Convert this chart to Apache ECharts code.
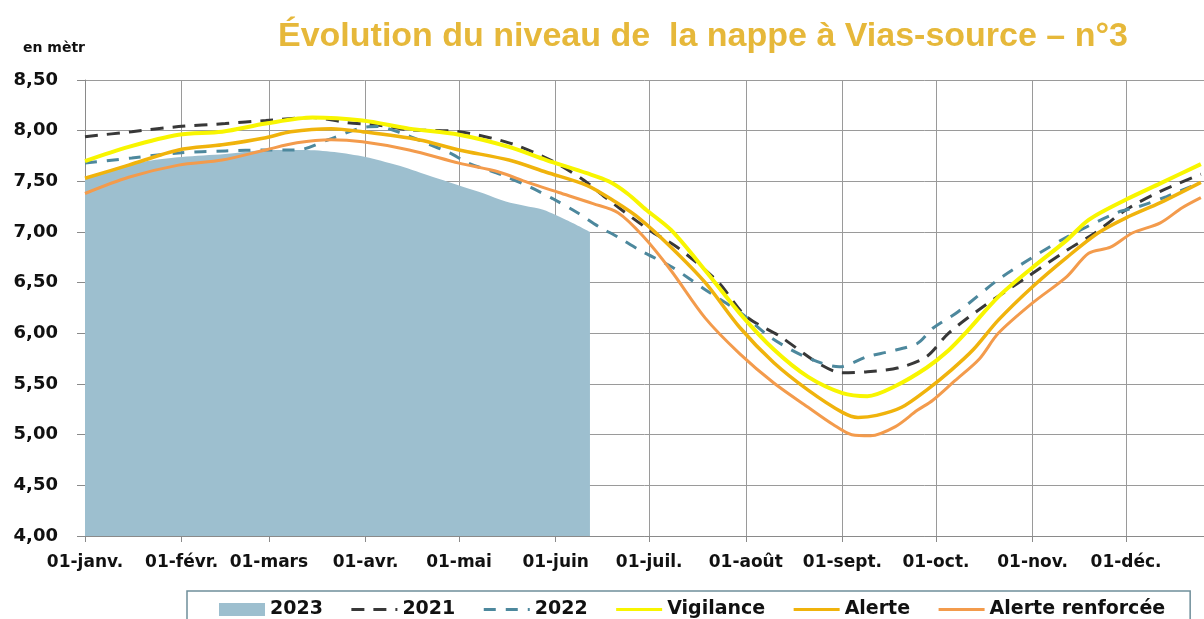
<!doctype html>
<html>
    <head>
        <meta charset="utf-8">
        <title>Évolution du niveau de la nappe à Vias-source – n°3</title>
        <style>
            html, body { margin: 0; padding: 0; background: #fff; }
            #main { width: 1204px; height: 619px; }
        </style>
    </head>
    <body>
        <div id="main"></div>
        <script src="https://cdn.jsdelivr.net/npm/echarts@6/dist/echarts.min.js"></script>
        <script>
            // x axis = day of the year (0 = 1 janvier)
            var monthStarts = [0, 31, 59, 90, 120, 151, 181, 212, 243, 273, 304, 334];
            var monthLabels = ['01-janv.', '01-févr.', '01-mars', '01-avr.', '01-mai', '01-juin',
                '01-juil.', '01-août', '01-sept.', '01-oct.', '01-nov.', '01-déc.'];

            // 2023 (area, stops mid-June)
            var days2023 = [0, 10, 20, 31, 45, 59, 70, 80, 90, 100, 110, 120, 128, 135, 141, 147, 155, 162];
            var vals2023 = [7.52, 7.63, 7.70, 7.74, 7.77, 7.81, 7.81, 7.79, 7.74, 7.66, 7.56, 7.46, 7.38, 7.30, 7.26, 7.22, 7.11, 7.00];

            // 2021
            var days2021 = [0, 15, 30, 45, 58, 73, 84, 95, 104, 120, 136, 148, 154, 161, 167, 181, 190, 203, 212, 223, 235, 243, 251, 261, 270, 277, 288, 302, 315, 324, 334, 345, 358];
            var vals2021 = [7.94, 7.99, 8.04, 8.07, 8.10, 8.13, 8.08, 8.05, 8.01, 7.99, 7.88, 7.73, 7.63, 7.49, 7.34, 7.02, 6.85, 6.51, 6.17, 5.97, 5.71, 5.61, 5.62, 5.66, 5.77, 6.00, 6.26, 6.55, 6.82, 6.99, 7.22, 7.40, 7.57];

            // 2022
            var days2022 = [0, 15, 30, 45, 58, 68, 78, 89, 94, 101, 110, 117, 123, 134, 143, 150, 158, 165, 171, 178, 188, 199, 210, 220, 231, 242, 251, 258, 267, 272, 280, 293, 304, 315, 331, 338, 347, 358];
            var vals2022 = [7.68, 7.73, 7.78, 7.80, 7.81, 7.81, 7.91, 8.03, 8.04, 7.98, 7.87, 7.78, 7.68, 7.56, 7.44, 7.33, 7.19, 7.05, 6.95, 6.82, 6.66, 6.43, 6.21, 5.96, 5.77, 5.67, 5.77, 5.82, 5.90, 6.05, 6.21, 6.53, 6.75, 6.95, 7.19, 7.25, 7.35, 7.49];

            // seuils
            var daysVig = [0, 14, 30, 44, 58, 73, 89, 104, 120, 136, 148, 161, 168, 174, 180, 188, 199, 210, 221, 232, 243, 251, 260, 270, 277, 283, 293, 304, 315, 322, 334, 345, 358];
            var valsVig = [7.70, 7.84, 7.96, 7.99, 8.07, 8.13, 8.10, 8.02, 7.96, 7.84, 7.71, 7.58, 7.50, 7.38, 7.22, 7.02, 6.62, 6.20, 5.84, 5.57, 5.41, 5.38, 5.48, 5.66, 5.83, 6.02, 6.36, 6.65, 6.92, 7.12, 7.32, 7.48, 7.67];

            var daysAle = [0, 14, 30, 44, 58, 66, 79, 89, 107, 120, 136, 148, 161, 170, 178, 188, 199, 210, 221, 232, 243, 248, 254, 262, 270, 278, 285, 293, 304, 315, 325, 334, 345, 358];
            var valsAle = [7.53, 7.66, 7.81, 7.86, 7.93, 7.99, 8.02, 7.99, 7.91, 7.81, 7.71, 7.59, 7.46, 7.30, 7.13, 6.85, 6.50, 6.06, 5.71, 5.44, 5.22, 5.17, 5.19, 5.27, 5.44, 5.64, 5.84, 6.13, 6.46, 6.75, 6.99, 7.14, 7.29, 7.49];

            var daysRen = [0, 14, 30, 44, 58, 68, 79, 89, 104, 120, 133, 142, 152, 163, 171, 179, 188, 199, 210, 221, 232, 240, 246, 252, 260, 267, 272, 279, 287, 293, 304, 315, 322, 329, 336, 345, 352, 358];
            var valsRen = [7.38, 7.54, 7.66, 7.71, 7.81, 7.88, 7.91, 7.89, 7.81, 7.68, 7.59, 7.49, 7.39, 7.28, 7.19, 6.96, 6.62, 6.15, 5.80, 5.51, 5.27, 5.10, 5.00, 4.99, 5.08, 5.24, 5.34, 5.53, 5.75, 6.00, 6.30, 6.56, 6.79, 6.85, 6.99, 7.09, 7.24, 7.34];

            function pairs(d, v) {
                return d.map(function (x, i) { return [x, v[i]]; });
            }

            var chart = echarts.init(document.getElementById('main'));

            var lineSeries = function (name, d, v, color, width, dash) {
                return {
                    name: name,
                    type: 'line',
                    data: pairs(d, v),
                    smooth: 0.3,
                    symbol: 'none',
                    color: color,
                    lineStyle: { color: color, width: width, type: dash || 'solid' },
                    z: 3
                };
            };

            // legend entries: hide the circle symbol, keep a thick line
            var legendLine = function (name, width) {
                return { name: name, itemStyle: { opacity: 0 }, lineStyle: { width: width } };
            };

            chart.setOption({
                animation: false,
                title: {
                    text: 'Évolution du niveau de  la nappe à Vias-source – n°3',
                    left: 273,
                    top: 15,
                    textStyle: { color: '#e6b83a', fontSize: 34, fontWeight: 'bold', fontFamily: 'Liberation Sans' }
                },
                legend: {
                    left: 187,
                    top: 591,
                    padding: [9, 25, 12, 32],
                    borderColor: '#6f8e9a',
                    borderWidth: 1.5,
                    itemWidth: 46,
                    itemHeight: 13,
                    itemGap: 27,
                    textStyle: { color: '#111', fontSize: 19, fontWeight: 'bold', fontFamily: 'DejaVu Sans' },
                    data: [
                        { name: '2023', icon: 'rect' },
                        legendLine('2021', 3),
                        legendLine('2022', 3),
                        legendLine('Vigilance', 3),
                        legendLine('Alerte', 3),
                        legendLine('Alerte renforcée', 3)
                    ]
                },
                grid: { left: 85, right: 0, top: 80, bottom: 83 },
                xAxis: {
                    type: 'value',
                    min: 0,
                    max: 359,
                    axisLine: { lineStyle: { color: '#8a8a8a' } },
                    axisTick: { customValues: monthStarts, length: 6, lineStyle: { color: '#8a8a8a' } },
                    axisLabel: {
                        customValues: monthStarts,
                        margin: 18,
                        color: '#111',
                        fontSize: 17,
                        fontWeight: 'bold',
                        fontFamily: 'DejaVu Sans',
                        formatter: function (v) {
                            var i = monthStarts.indexOf(v);
                            return i >= 0 ? monthLabels[i] : '';
                        }
                    },
                    splitLine: { show: true, lineStyle: { color: '#9a9a9a', width: 1 } }
                },
                yAxis: {
                    type: 'value',
                    min: 4,
                    max: 8.5,
                    interval: 0.5,
                    name: 'en mètre',
                    nameLocation: 'end',
                    nameGap: 32,
                    nameTruncate: { maxWidth: 64, ellipsis: '' },
                    nameTextStyle: {
                        align: 'right', verticalAlign: 'middle',
                        color: '#111', fontSize: 14, fontWeight: 'bold', fontFamily: 'DejaVu Sans'
                    },
                    axisLine: { show: true, lineStyle: { color: '#8a8a8a' } },
                    axisTick: { show: true, length: 8, lineStyle: { color: '#8a8a8a' } },
                    axisLabel: {
                        margin: 27,
                        color: '#111',
                        fontSize: 18,
                        fontWeight: 'bold',
                        fontFamily: 'DejaVu Sans',
                        formatter: function (v) { return v.toFixed(2).replace('.', ','); }
                    },
                    splitLine: { show: true, lineStyle: { color: '#9a9a9a', width: 1 } }
                },
                series: [
                    {
                        name: '2023',
                        type: 'line',
                        data: pairs(days2023, vals2023),
                        smooth: 0.3,
                        symbol: 'none',
                        color: '#9dbfcf',
                        itemStyle: { color: '#9dbfcf' },
                        lineStyle: { width: 0 },
                        areaStyle: { color: '#9dbfcf', opacity: 1 },
                        z: 1
                    },
                    lineSeries('2021', days2021, vals2021, '#383838', 3, [13, 9]),
                    lineSeries('2022', days2022, vals2022, '#4d889d', 3, [12, 10]),
                    lineSeries('Vigilance', daysVig, valsVig, '#f8f500', 4),
                    lineSeries('Alerte', daysAle, valsAle, '#f0b30c', 3.5),
                    lineSeries('Alerte renforcée', daysRen, valsRen, '#f39b4c', 3)
                ]
            });

            window.addEventListener('resize', function () {
                chart.resize();
            });
        </script>
    </body>
</html>
